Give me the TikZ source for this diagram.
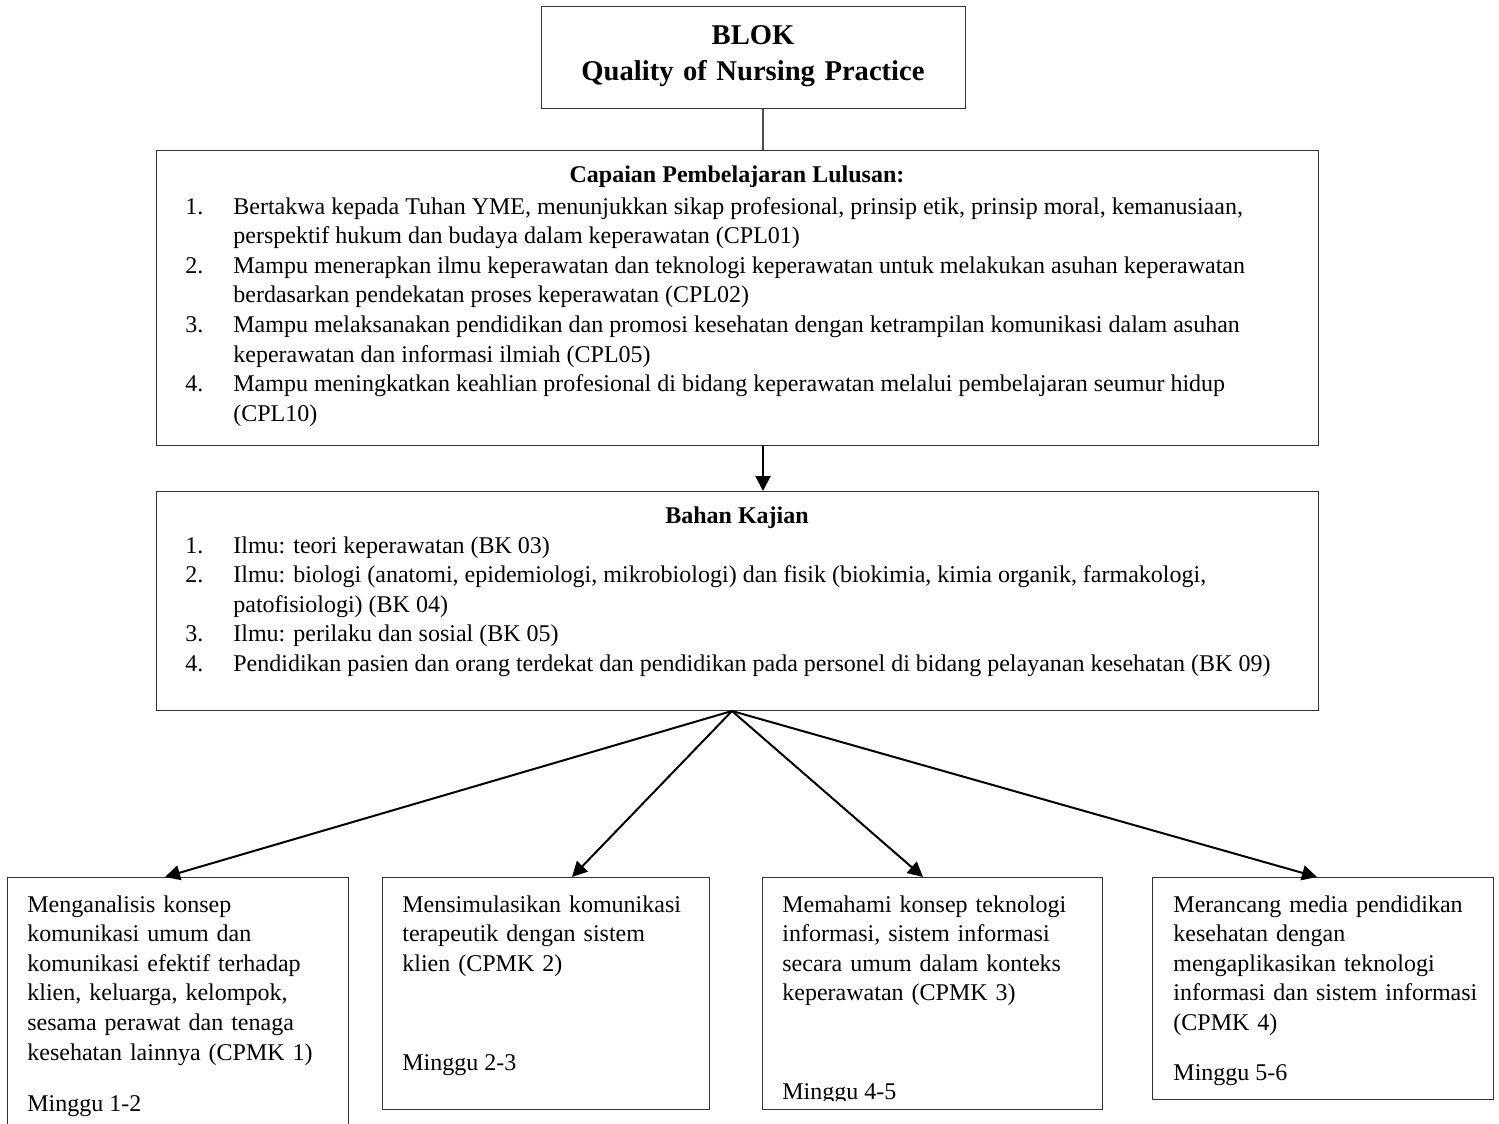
\documentclass[tikz,border=0pt]{standalone}
\usepackage{fontspec}
\setmainfont{Liberation Serif}
\usetikzlibrary{positioning,shapes,arrows,arrows.meta}

\tikzset{
  box/.style={draw=black!80, line width=0.7pt, rectangle, anchor=north west, inner sep=0pt},
  body/.style={anchor=base west, inner sep=0pt, font=\fontsize{12}{14.8}\selectfont},
  head/.style={anchor=base, inner sep=0pt, font=\fontsize{12}{14.8}\selectfont\bfseries},
  cpmk/.style={body, text width=165pt, align=left},
  link/.style={line width=1pt, ->},
}

\begin{document}
\begin{tikzpicture}[x=0.5pt, y=-0.5pt, >={Triangle[length=7.5pt,width=7.5pt]}]
\useasboundingbox (0,0) rectangle (1499,1124);

% Blok title
\node[box, minimum width=212pt, minimum height=51pt] (blok) at (541,6) {};
\node[anchor=base, inner sep=0pt, text width=210pt, align=center,
      font=\fontsize{14.3}{18}\selectfont\bfseries] (bloktext) at (753,44)
      {BLOK\\Quality of Nursing Practice};

% Capaian Pembelajaran Lulusan
\node[box, minimum width=581pt, minimum height=147.5pt] (cpl) at (156,150) {};
\node[head] (cpltitle) at (737,182) {Capaian Pembelajaran Lulusan:};
\node[body] (cplitems) at (185,214) {%
  \begin{tabular}[t]{@{}p{24pt}@{}l@{}}
  1. & Bertakwa kepada Tuhan YME, menunjukkan sikap profesional, prinsip etik, prinsip moral, kemanusiaan,\\
     & perspektif hukum dan budaya dalam keperawatan (CPL01)\\
  2. & Mampu menerapkan ilmu keperawatan dan teknologi keperawatan untuk melakukan asuhan keperawatan\\
     & berdasarkan pendekatan proses keperawatan (CPL02)\\
  3. & Mampu melaksanakan pendidikan dan promosi kesehatan dengan ketrampilan komunikasi dalam asuhan\\
     & keperawatan dan informasi ilmiah (CPL05)\\
  4. & Mampu meningkatkan keahlian profesional di bidang keperawatan melalui pembelajaran seumur hidup\\
     & (CPL10)
  \end{tabular}};

% Bahan Kajian
\node[box, minimum width=581pt, minimum height=109.5pt] (bk) at (156,491) {};
\node[head] (bktitle) at (737,523) {Bahan Kajian};
\node[body] (bkitems) at (185,553) {%
  \begin{tabular}[t]{@{}p{24pt}@{}l@{}}
  1. & Ilmu: teori keperawatan (BK 03)\\
  2. & Ilmu: biologi (anatomi, epidemiologi, mikrobiologi) dan fisik (biokimia, kimia organik, farmakologi,\\
     & patofisiologi) (BK 04)\\
  3. & Ilmu: perilaku dan sosial (BK 05)\\
  4. & Pendidikan pasien dan orang terdekat dan pendidikan pada personel di bidang pelayanan kesehatan (BK 09)
  \end{tabular}};

% CPMK boxes
\node[box, minimum width=170.5pt, minimum height=129pt] (b1) at (7,877) {};
\node[box, minimum width=163.5pt, minimum height=116pt] (b2) at (382,877) {};
\node[box, minimum width=170pt, minimum height=116pt] (b3) at (762,877) {};
\node[box, minimum width=170.5pt, minimum height=111pt] (b4) at (1152,877) {};

\node[cpmk] (t1) at (27,912) {Menganalisis konsep\\komunikasi umum dan\\komunikasi efektif terhadap\\klien, keluarga, kelompok,\\sesama perawat dan tenaga\\kesehatan lainnya (CPMK 1)};
\node[body] (w1) at (27,1111) {Minggu 1-2};
\node[cpmk] (t2) at (402,912) {Mensimulasikan komunikasi\\terapeutik dengan sistem\\klien (CPMK 2)};
\node[body] (w2) at (402,1070) {Minggu 2-3};
\node[cpmk] (t3) at (782,912) {Memahami konsep teknologi\\informasi, sistem informasi\\secara umum dalam konteks\\keperawatan (CPMK 3)};
\begin{scope}
  \clip (762,877) rectangle (1102,1100);
  \node[body] (w3) at (782,1099) {Minggu 4-5};
\end{scope}
\node[cpmk] (t4) at (1173,912) {Merancang media pendidikan\\kesehatan dengan\\mengaplikasikan teknologi\\informasi dan sistem informasi\\(CPMK 4)};
\node[body] (w4) at (1173,1080) {Minggu 5-6};

% Connectors
\coordinate (spine) at (763,0);
\coordinate (hub) at (732,711);
\coordinate (in1) at (165,877);
\coordinate (in2) at (572,877);
\coordinate (in3) at (923,877);
\coordinate (in4) at (1317,877);
\draw[black!70, line width=0.6pt] (spine |- blok.south) -- (spine |- cpl.north);
\draw[link] (spine |- cpl.south) -- (spine |- bk.north);
\draw[link] (hub) -- (in1);
\draw[link] (hub) -- (in2);
\draw[link] (hub) -- (in3);
\draw[link] (hub) -- (in4);
\end{tikzpicture}
\end{document}
